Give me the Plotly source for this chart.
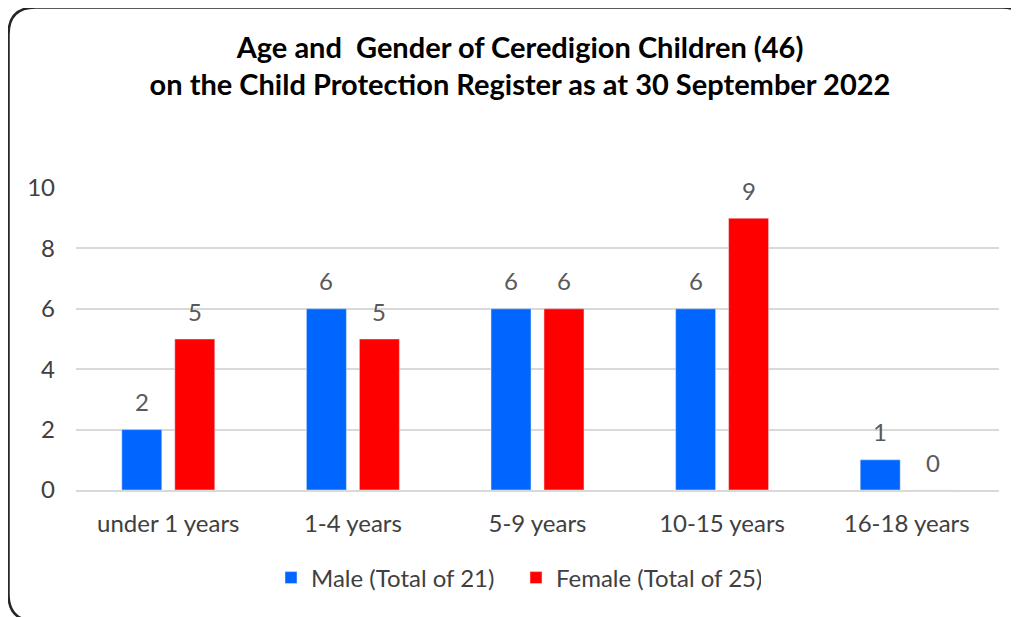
import plotly.graph_objects as go

categories = ["under 1 years", "1-4 years", "5-9 years", "10-15 years", "16-18 years"]
male = [2, 6, 6, 6, 1]
female = [5, 5, 6, 9, 0]
male_name = "Male (Total of 21)"
female_name = "Female (Total of 25)"
title_lines = ["Age and  Gender of Ceredigion Children (46)",
               "on the Child Protection Register as at 30 September 2022"]

# page body has an 8px margin, so work in screen coords and subtract it
OFF = 8
W, H = 1019 - OFF, 617 - OFF
ML = 76 - OFF
MR = W - (999 - OFF)
MT = 188 - OFF
MB = H - (490 - OFF)
PW, PH = W - ML - MR, H - MT - MB


def px(x):  # screen x -> paper
    return (x - OFF - ML) / PW


def py(y):  # screen y -> paper
    return (H - MB - (y - OFF)) / PH


FONT = "Lato, 'Open Sans', sans-serif"
BARGAP, GROUPGAP = 0.426, 0.245
slot = PW / len(categories) * (1 - BARGAP) / 2

fig = go.Figure()
fig.add_bar(x=categories, y=male, name=male_name, marker_color="#0066FF")
fig.add_bar(x=categories, y=female, name=female_name, marker_color="#FF0000")

annotations = []
for vals, sh in ((male, -slot / 2), (female, slot / 2)):
    for c, v in zip(categories, vals):
        annotations.append(dict(x=c, y=v, xref="x", yref="y", text=str(v), showarrow=False,
                                xshift=sh, yshift=28, yanchor="middle",
                                font=dict(size=24, color="#595959", family=FONT)))

# rounded border (right and bottom edges run past the canvas)
x0, x1, y0, y1, r = 8.5, 1029, 7.5, 621, 27
path = (f"M {px(x0+r)},{py(y0)} L {px(x1-r)},{py(y0)} Q {px(x1)},{py(y0)} {px(x1)},{py(y0+r)} "
        f"L {px(x1)},{py(y1-r)} Q {px(x1)},{py(y1)} {px(x1-r)},{py(y1)} "
        f"L {px(x0+r)},{py(y1)} Q {px(x0)},{py(y1)} {px(x0)},{py(y1-r)} "
        f"L {px(x0)},{py(y0+r)} Q {px(x0)},{py(y0)} {px(x0+r)},{py(y0)} Z")

fig.update_layout(
    width=W, height=H,
    margin=dict(l=ML, r=MR, t=MT, b=MB),
    paper_bgcolor="white", plot_bgcolor="white",
    barmode="group", bargap=BARGAP, bargroupgap=GROUPGAP,
    font=dict(family=FONT, color="#404040", size=24),
    title=dict(text="<b>" + title_lines[0] + "</b><br><b>" + title_lines[1] + "</b>",
               x=(520 - OFF) / W, xanchor="center", y=1 - (57.5 - OFF) / H, yanchor="middle",
               font=dict(size=29, color="#000000", family=FONT)),
    showlegend=True,
    legend=dict(orientation="h", x=px(271), xanchor="left", y=py(578), yanchor="middle",
                font=dict(size=24, color="#404040", family=FONT),
                itemwidth=30, entrywidth=200, traceorder="normal"),
    annotations=annotations,
    shapes=[dict(type="path", xref="paper", yref="paper", path=path,
                 line=dict(color="#262626", width=2.5), fillcolor="rgba(0,0,0,0)", layer="above")],
    xaxis=dict(showgrid=False, showline=True, linecolor="#d9d9d9", linewidth=2,
               ticks="outside", ticklen=11, tickcolor="rgba(0,0,0,0)",
               tickfont=dict(size=24, color="#404040")),
    yaxis=dict(range=[0, 10], dtick=2, showgrid=True, gridcolor="#d9d9d9", gridwidth=2,
               zeroline=False, showline=False, ticklabelstandoff=20,
               tickfont=dict(size=24, color="#404040")),
)

fig.write_html("out.html")
